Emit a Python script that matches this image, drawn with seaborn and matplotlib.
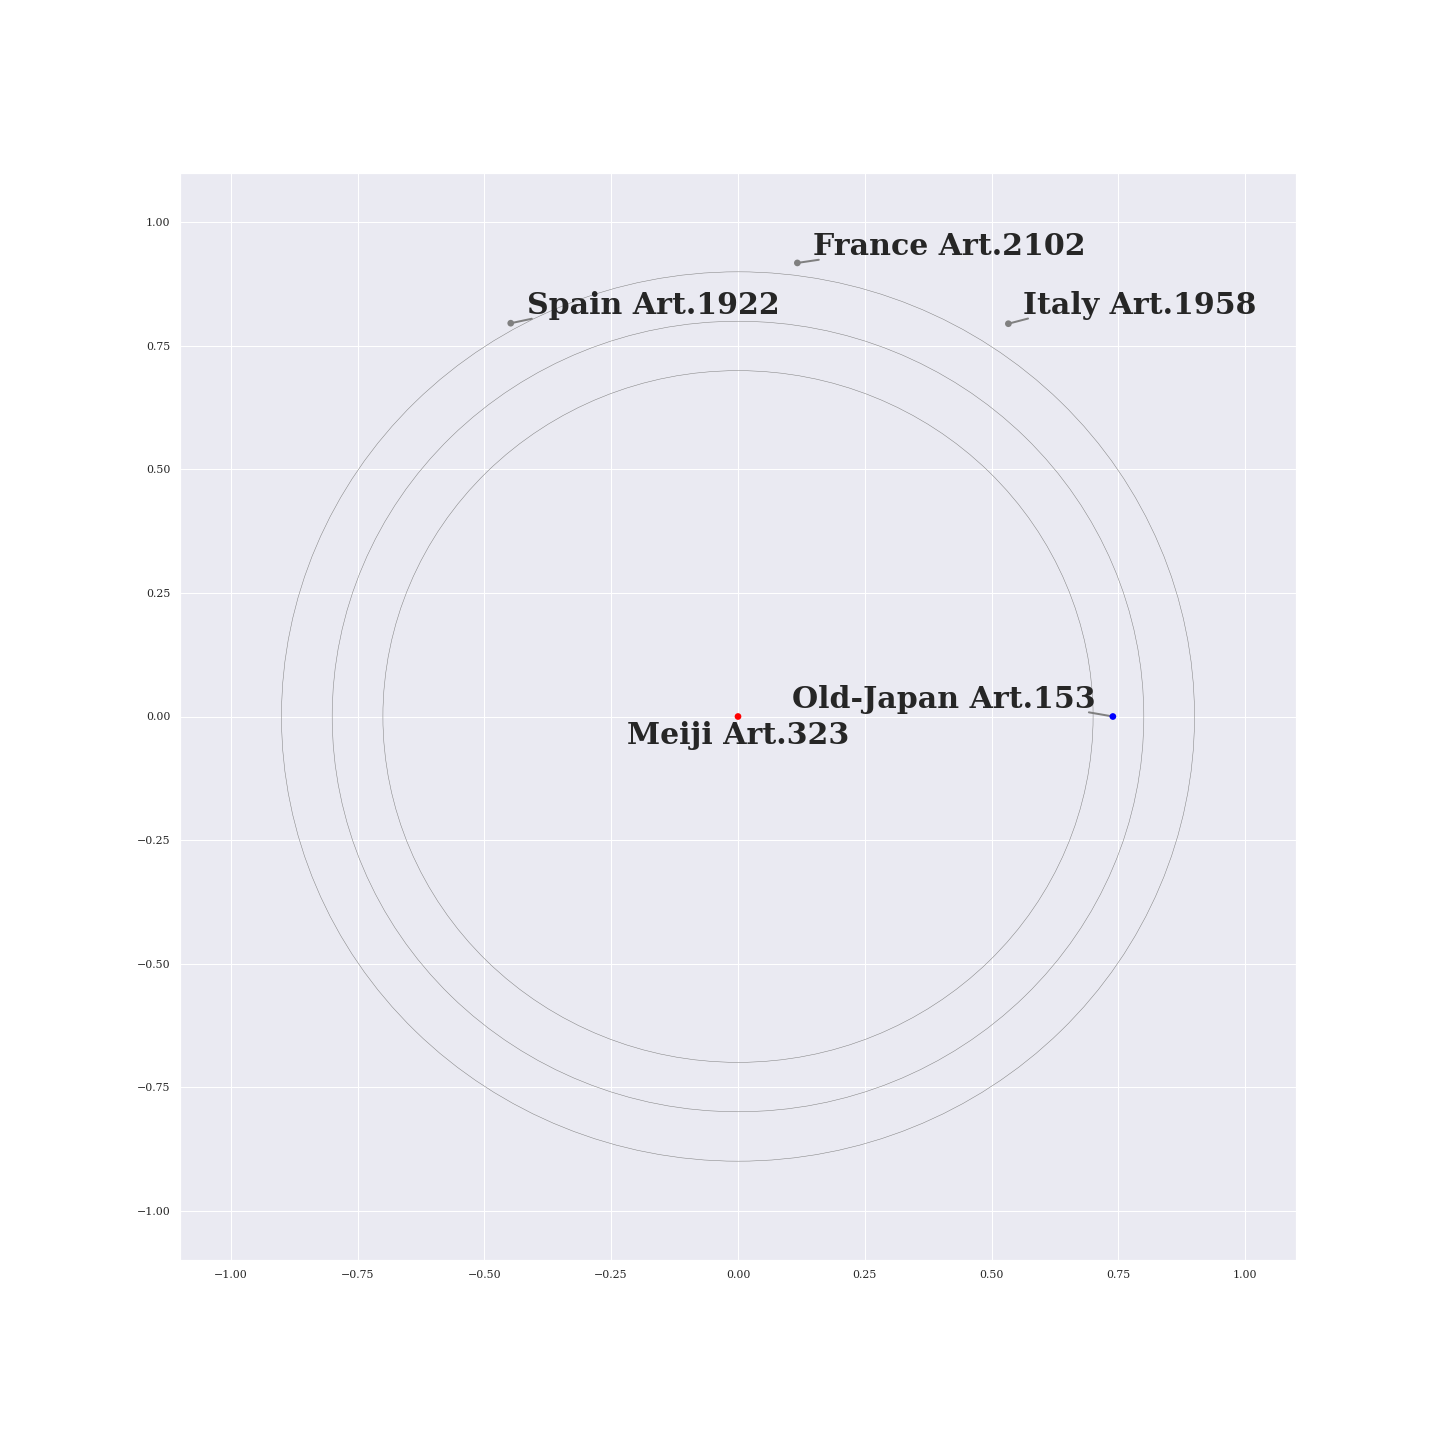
import numpy as np
import pandas as pd
import matplotlib
matplotlib.use('Agg')
import matplotlib.pyplot as plt
import seaborn as sns

# data
names = ['Meiji Art.323', 'Old-Japan Art.153', 'France Art.2102', 'Italy Art.1958', 'Spain Art.1922']
x_pos = [0.0, 0.739, 0.117, 0.533, -0.448]
y_pos = [0.0, 0.0, 0.918, 0.795, 0.796]
point_colors = ['red', 'blue', 'gray', 'gray', 'gray']
radii = [0.7, 0.8, 0.9]

# label placement (offset in points, alignment, where the leader line leaves the text)
offsets = [(0, -28), (-17, 9), (16, 8), (15, 10), (16, 9)]
aligns = ['center', 'right', 'left', 'left', 'left']
line_start = [(0.5, 0.5), (0.977, 0.04), (0.02, 0.04), (0.02, 0.04), (0.02, 0.05)]


def main():
    sns.set(style='darkgrid', font='serif')
    plt.rcParams['font.family'] = ['DejaVu Serif']

    df = pd.DataFrame({'name': names, 'x': x_pos, 'y': y_pos})

    fig = plt.figure(figsize=(20, 20), dpi=72)
    ax = fig.add_axes([180 / 1440, 180 / 1440, 1116 / 1440, 1087 / 1440])

    # rings
    for r in radii:
        ax.add_patch(plt.Circle((0, 0), r, fill=False, color='gray', lw=0.5))

    sns.scatterplot(data=df, x='x', y='y', hue='name', palette=point_colors,
                    s=45, linewidth=0, legend=False, ax=ax, zorder=4)

    for name, x, y, off, ha, rel in zip(names, x_pos, y_pos, offsets, aligns, line_start):
        # Meiji label sits right under its point, so no leader line there
        props = None
        if rel != (0.5, 0.5):
            props = dict(arrowstyle='-', color='gray', lw=2, relpos=rel,
                         patchA=None, shrinkA=0, shrinkB=0)
        ax.annotate(name, xy=(x, y), xytext=off, textcoords='offset points',
                    ha=ha, fontsize=30, fontweight='bold', color='#262626',
                    arrowprops=props)

    ax.set_xlim(-1.1, 1.1)
    ax.set_ylim(-1.1, 1.1)
    ax.set_xlabel('')
    ax.set_ylabel('')

    fig.savefig('out.png', dpi=72)


if __name__ == '__main__':
    main()
